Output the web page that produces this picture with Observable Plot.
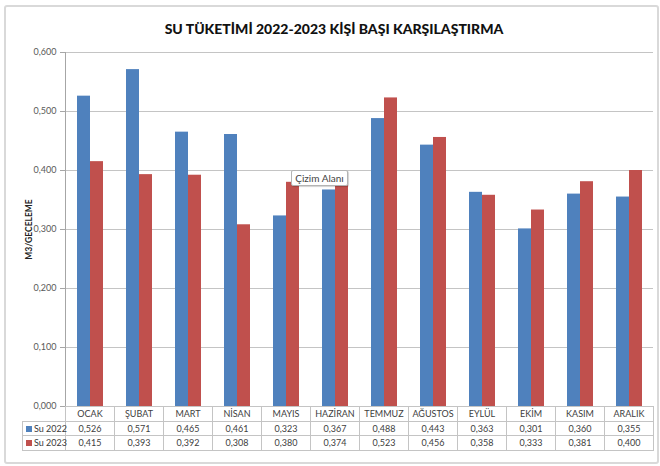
<!DOCTYPE html>
<html>
<head>
<meta charset="utf-8">
<script src="https://cdn.jsdelivr.net/npm/d3@7"></script>
<script src="https://cdn.jsdelivr.net/npm/@observablehq/plot@0.6"></script>
<style>
  html, body { margin: 0; padding: 0; background: #fff; }
  #wrap { position: relative; width: 660px; height: 466px; overflow: hidden; font-family: Lato, "Open Sans", sans-serif; }
  .frame { position: absolute; left: 4px; top: 5px; width: 651px; height: 455px; border: 2px solid #d9d9d9; border-radius: 3px; }
  .title { position: absolute; left: 0; width: 668px; top: 20px; text-align: center; font: 900 14px Lato, sans-serif; color: #111; letter-spacing: 0px; }
  #chart { position: absolute; left: 0; top: 0; }
  #chart svg { overflow: visible; }
  #chart [aria-label="y-axis label"] text { font-weight: bold; font-size: 8.5px; fill: #222; }
  .cell { position: absolute; box-sizing: border-box; border: 1px solid #c4c4c4; font: 9px Lato, sans-serif; color: #404040; text-align: center; line-height: 13px; white-space: nowrap; }
  .leg { text-align: left; padding-left: 3px; color: #3a3a3a; }
  .sw { display: inline-block; width: 6px; height: 6px; margin-right: 2px; vertical-align: 0px; }
  .tip { position: absolute; left: 291px; top: 170px; width: 57px; height: 16px; box-sizing: border-box; border: 1px solid #b4b4b4; background: #fff; box-shadow: 1px 1px 1px rgba(0,0,0,0.18); font: 10px Lato, sans-serif; color: #444; text-align: center; line-height: 14px; border-radius: 2px; }
</style>
</head>
<body>
<div id="wrap">
  <div class="frame"></div>
  <div class="title">SU TÜKETİMİ 2022-2023 KİŞİ BAŞI KARŞILAŞTIRMA</div>
  <div id="chart"></div>
  <div id="table"></div>
  <div class="tip">Çizim Alanı</div>
</div>
<script>
const months = ["OCAK","ŞUBAT","MART","NİSAN","MAYIS","HAZİRAN","TEMMUZ","AĞUSTOS","EYLÜL","EKİM","KASIM","ARALIK"];
const series = ["Su 2022","Su 2023"];
const su2022 = [0.526,0.571,0.465,0.461,0.323,0.367,0.488,0.443,0.363,0.301,0.360,0.355];
const su2023 = [0.415,0.393,0.392,0.308,0.380,0.374,0.523,0.456,0.358,0.333,0.381,0.400];
const yTicks = [0,0.1,0.2,0.3,0.4,0.5,0.6];
const colors = ["#4F81BD","#C0504D"];
const yLabel = "M3/GECELEME";

const fmt = d => d.toFixed(3).replace(".", ",");
const data = months.flatMap((m, i) => [
  {month: m, series: series[0], value: su2022[i]},
  {month: m, series: series[1], value: su2023[i]}
]);

const chart = Plot.plot({
  width: 660, height: 466,
  marginTop: 52, marginBottom: 60, marginLeft: 64, marginRight: 6,
  style: {background: "transparent", fontFamily: "Lato, sans-serif"},
  fx: {domain: months, padding: 0, axis: null},
  x: {domain: series, paddingInner: 0, paddingOuter: 0.756, axis: null},
  y: {domain: [0, 0.6], axis: null},
  color: {domain: series, range: colors},
  marks: [
    Plot.ruleY(yTicks, {stroke: "#c4c4c4", strokeWidth: 1}),
    Plot.barY(data, {fx: "month", x: "series", y: "value", fill: "series"}),
    Plot.frame({anchor: "left", facetAnchor: "left", stroke: "#a6a6a6"}),
    Plot.axisY({ticks: yTicks, tickFormat: fmt, tickSize: 5, tickPadding: 4, fontSize: 9, color: "#595959", stroke: "#a6a6a6",
      label: yLabel, labelAnchor: "center", labelArrow: "none", labelOffset: 40, facetAnchor: "left"})
  ]
});
document.getElementById("chart").appendChild(chart);

// data table aligned to the fx scale
const fx = chart.scale("fx");
const bw = fx.bandwidth;
const left0 = fx.apply(months[0]);
const rowTop = [406, 420.5, 435];
const rowH = 15.5;
const legX = 22;
const table = d3.select("#table");
function cell(x, y, w, h, html, cls) {
  table.append("div").attr("class", "cell " + (cls || ""))
    .style("left", x + "px").style("top", y + "px")
    .style("width", w + "px").style("height", h + "px")
    .html(html);
}
months.forEach((m, i) => {
  const x = fx.apply(m);
  cell(x, rowTop[0], bw + 1, rowH, m);
  cell(x, rowTop[1], bw + 1, rowH, fmt(su2022[i]));
  cell(x, rowTop[2], bw + 1, rowH, fmt(su2023[i]));
});
series.forEach((s, k) => {
  cell(legX, rowTop[k + 1], left0 - legX + 1, rowH,
    `<span class="sw" style="background:${colors[k]}"></span>${s}`, "leg");
});
</script>
</body>
</html>
